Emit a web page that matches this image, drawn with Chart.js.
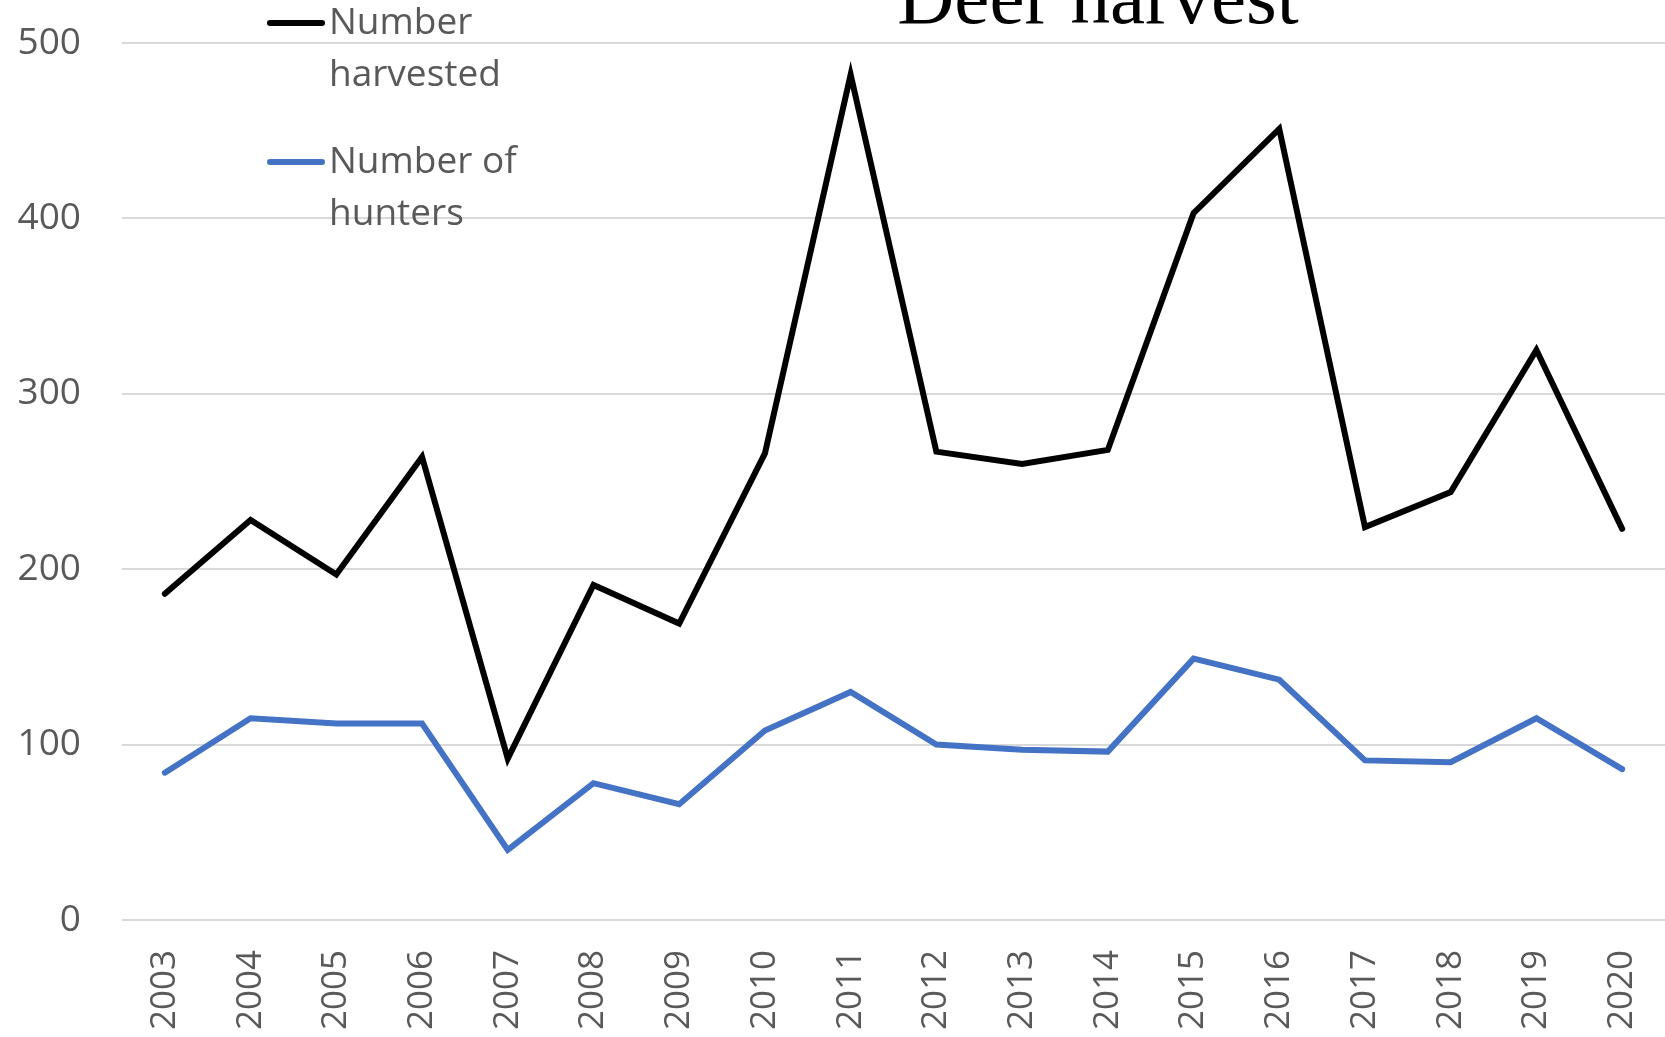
<!DOCTYPE html>
<html>
<head>
<meta charset="utf-8">
<style>
  html, body { margin: 0; padding: 0; background: #fff; }
  #wrap { width: 1665px; height: 1037px; }
</style>
<script src="https://cdn.jsdelivr.net/npm/chart.js@4.4.0/dist/chart.umd.min.js"></script>
</head>
<body>
<div id="wrap"><canvas id="chart" width="1665" height="1037"></canvas></div>
<script>
const years = ["2003", "2004", "2005", "2006", "2007", "2008", "2009", "2010", "2011",
  "2012", "2013", "2014", "2015", "2016", "2017", "2018", "2019", "2020"];
const harvested = [186, 228, 197, 264, 92, 191, 169, 266, 482, 267, 260, 268, 403, 451, 224, 244, 325, 223];
const hunters = [84, 115, 112, 112, 40, 78, 66, 108, 130, 100, 97, 96, 149, 137, 91, 90, 115, 86];
const yTicks = [0, 100, 200, 300, 400, 500];
const chartTitle = "Deer harvest";
const legendItems = [
  { lines: ["Number", "harvested"], color: "#000000" },
  { lines: ["Number of", "hunters"], color: "#4472c4" }
];

const textColor = "#595959";
const font = "'Open Sans', 'Noto Sans', sans-serif";

// title + legend are drawn by hand, the title is cut at the top of the picture
const overlay = {
  id: "overlay",
  afterDraw(chart) {
    const ctx = chart.ctx;
    ctx.save();
    ctx.fillStyle = "#000";
    ctx.font = "79px 'Liberation Serif', 'DejaVu Serif', serif";
    ctx.textAlign = "center";
    ctx.textBaseline = "alphabetic";
    ctx.fillText(chartTitle, 1098, 23);

    ctx.font = "37px " + font;
    ctx.textAlign = "left";
    ctx.textBaseline = "middle";
    let y = 23;
    legendItems.forEach(item => {
      ctx.strokeStyle = item.color;
      ctx.lineWidth = 6;
      ctx.lineCap = "round";
      ctx.beginPath();
      ctx.moveTo(270, y);
      ctx.lineTo(322, y);
      ctx.stroke();
      ctx.fillStyle = textColor;
      item.lines.forEach((t, i) => ctx.fillText(t, 329, y + i * 52));
      y += 139;
    });
    ctx.restore();
  }
};

new Chart(document.getElementById("chart"), {
  type: "line",
  data: {
    labels: years,
    datasets: [
      { label: "Number harvested", data: harvested, borderColor: "#000000", borderWidth: 6 },
      { label: "Number of hunters", data: hunters, borderColor: "#4472c4", borderWidth: 6 }
    ]
  },
  options: {
    responsive: false,
    animation: false,
    layout: { padding: { top: 43, left: 18, right: 0, bottom: 0 } },
    elements: { point: { radius: 0 }, line: { tension: 0, borderCapStyle: "round", borderJoinStyle: "miter" } },
    plugins: { legend: { display: false }, title: { display: false }, tooltip: { enabled: false } },
    scales: {
      x: {
        offset: true,
        grid: { display: false, drawTicks: false },
        border: { display: false },
        ticks: {
          color: textColor,
          font: { family: font, size: 35 },
          minRotation: 90, maxRotation: 90,
          padding: 30,
          autoSkip: false
        },
        afterFit(scale) {
          scale.height = 117;
          scale.paddingLeft = 0;
          scale.paddingRight = 0;
        }
      },
      y: {
        min: 0, max: 500,
        afterBuildTicks(scale) { scale.ticks = yTicks.map(v => ({ value: v })); },
        grid: { color: "#d9d9d9", lineWidth: 2, drawTicks: false },
        border: { display: false },
        ticks: {
          color: textColor,
          font: { family: font, size: 37 },
          padding: 41
        },
        afterFit(scale) {
          scale.width = 104;
          scale.paddingTop = 0;
          scale.paddingBottom = 0;
        }
      }
    }
  },
  plugins: [overlay]
});
</script>
</body>
</html>
